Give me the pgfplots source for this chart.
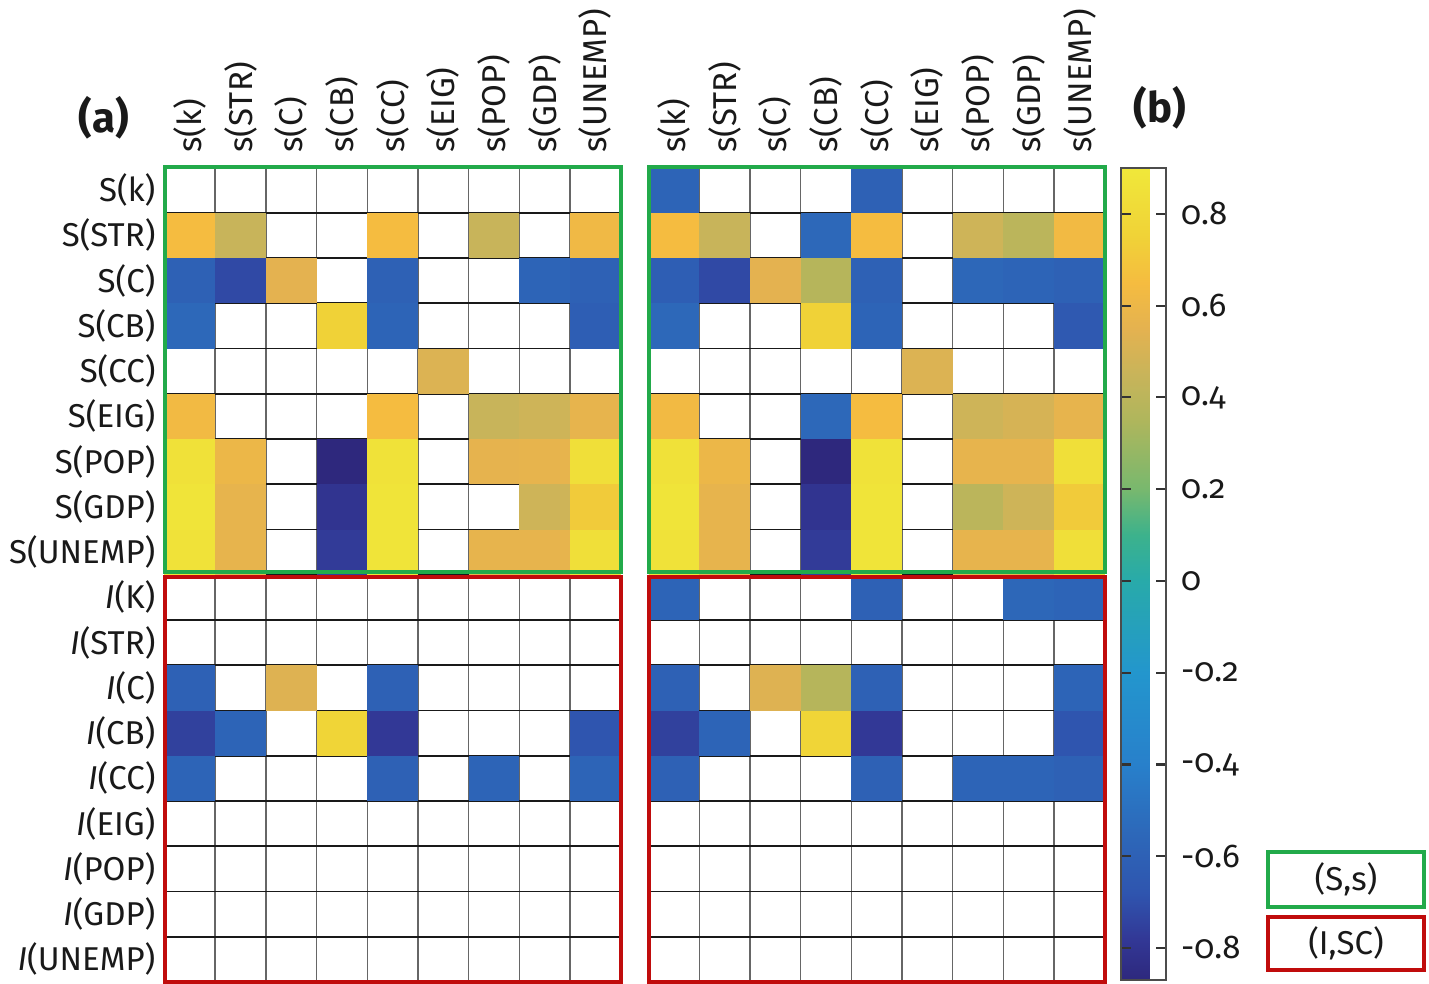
\documentclass[border=0pt]{standalone}
\usepackage{fontspec}
\setmainfont{Fira Sans}[Numbers=OldStyle]
\usepackage{pgfplots}
\usepackage{pgfplotstable}
\pgfplotsset{compat=1.18}
\definecolor{boxgreen}{RGB}{34,170,74}
\definecolor{boxred}{RGB}{192,12,12}
\definecolor{txt}{RGB}{25,25,25}
\newcommand{\lbl}{\fontsize{16.5}{19}\selectfont}
\pgfdeclareplotmark{cell}{\pgfpathrectangle{\pgfqpoint{-12.675pt}{-11.3125pt}}{\pgfqpoint{25.35pt}{22.625pt}}\pgfusepathqfill}
\pgfplotsset{colormap={refparula}{
 rgb255(0cm)=(46,40,125);
 rgb255(9cm)=(50,56,150);
 rgb255(19cm)=(47,85,175);
 rgb255(32cm)=(45,104,185);
 rgb255(47cm)=(40,128,203);
 rgb255(67cm)=(35,150,205);
 rgb255(87cm)=(40,170,170);
 rgb255(97cm)=(60,178,140);
 rgb255(107cm)=(120,184,110);
 rgb255(122cm)=(175,182,92);
 rgb255(132cm)=(200,180,90);
 rgb255(142cm)=(228,178,80);
 rgb255(152cm)=(245,188,64);
 rgb255(162cm)=(240,210,55);
 rgb255(177cm)=(240,232,58)}}
% panel (a): column, row, value (white cells omitted)
\pgfplotstableread{
c r v
0 1 0.65
1 1 0.45
4 1 0.65
6 1 0.45
8 1 0.62
0 2 -0.60
1 2 -0.72
2 2 0.55
4 2 -0.60
7 2 -0.58
8 2 -0.60
0 3 -0.55
3 3 0.75
4 3 -0.58
8 3 -0.62
5 4 0.52
0 5 0.63
4 5 0.65
6 5 0.45
7 5 0.47
8 5 0.57
0 6 0.85
1 6 0.60
3 6 -0.87
4 6 0.86
6 6 0.56
7 6 0.57
8 6 0.84
0 7 0.87
1 7 0.57
3 7 -0.80
4 7 0.87
7 7 0.47
8 7 0.72
0 8 0.86
1 8 0.57
3 8 -0.77
4 8 0.87
6 8 0.57
7 8 0.57
8 8 0.84
0 11 -0.60
2 11 0.53
4 11 -0.60
0 12 -0.75
1 12 -0.58
3 12 0.77
4 12 -0.78
8 12 -0.68
0 13 -0.58
4 13 -0.60
6 13 -0.58
8 13 -0.58
}\dataA
% panel (b)
\pgfplotstableread{
c r v
0 0 -0.58
4 0 -0.60
0 1 0.65
1 1 0.45
3 1 -0.55
4 1 0.65
6 1 0.47
7 1 0.40
8 1 0.63
0 2 -0.62
1 2 -0.72
2 2 0.55
3 2 0.38
4 2 -0.60
6 2 -0.56
7 2 -0.58
8 2 -0.60
0 3 -0.55
3 3 0.75
4 3 -0.58
8 3 -0.65
5 4 0.52
0 5 0.63
3 5 -0.55
4 5 0.65
6 5 0.47
7 5 0.50
8 5 0.57
0 6 0.85
1 6 0.60
3 6 -0.87
4 6 0.86
6 6 0.57
7 6 0.57
8 6 0.84
0 7 0.87
1 7 0.57
3 7 -0.80
4 7 0.87
6 7 0.40
7 7 0.47
8 7 0.72
0 8 0.86
1 8 0.57
3 8 -0.77
4 8 0.87
6 8 0.57
7 8 0.57
8 8 0.84
0 9 -0.58
4 9 -0.60
7 9 -0.56
8 9 -0.58
0 11 -0.60
2 11 0.53
3 11 0.38
4 11 -0.60
8 11 -0.58
0 12 -0.75
1 12 -0.58
3 12 0.77
4 12 -0.78
8 12 -0.68
0 13 -0.60
4 13 -0.60
6 13 -0.58
7 13 -0.58
8 13 -0.60
}\dataB
\pgfplotsset{hm/.style={
  x=25.35pt, y=22.625pt, y dir=reverse,
  xmin=-0.5, xmax=8.5, ymin=-0.5, ymax=17.5,
  axis line style={draw=none},
  xtick={0,...,8}, ytick={0,...,17},
  minor xtick={0.5,1.5,...,7.5}, minor ytick={0.5,1.5,...,16.5},
  xminorgrids, yminorgrids,
  major tick length=0pt, minor tick length=0pt,
  every minor grid/.style={},
  x grid style={black!60, line width=0.7pt},
  y grid style={black!90, line width=0.8pt},
  axis on top,
  xticklabel pos=upper,
  xticklabel shift=4pt,
  yticklabel shift=1pt,
  xticklabels={s(k),s(STR),s(C),s(CB),s(CC),s(EIG),s(POP),s(GDP),s(UNEMP)},
  xticklabel style={rotate=90, anchor=west, font=\lbl, text=txt},
  yticklabel style={font=\lbl, text=txt},
  colormap name=refparula, point meta min=-0.87, point meta max=0.9,
}}
\begin{document}
\begin{tikzpicture}
\useasboundingbox (0,0) rectangle (714.5pt,-492pt);
\begin{axis}[hm, at={(82.25pt,-83.75pt)}, anchor=north west,
  yticklabels={S(k),S(STR),S(C),S(CB),S(CC),S(EIG),S(POP),S(GDP),S(UNEMP),
  \textit{I}(K),\textit{I}(STR),\textit{I}(C),\textit{I}(CB),\textit{I}(CC),\textit{I}(EIG),\textit{I}(POP),\textit{I}(GDP),\textit{I}(UNEMP)}]
\addplot[scatter, only marks, mark=cell, point meta=explicit,
  scatter/use mapped color={fill=mapped color, draw=none}]
  table[x=c, y=r, meta=v]{\dataA};
\coordinate (a1) at (axis cs:-0.5,-0.5);
\coordinate (a2) at (axis cs:8.5,8.44);
\coordinate (a3) at (axis cs:-0.5,8.56);
\coordinate (a4) at (axis cs:8.5,17.5);
\end{axis}
\begin{axis}[hm, at={(324.25pt,-83.75pt)}, anchor=north west, yticklabels={}]
\addplot[scatter, only marks, mark=cell, point meta=explicit,
  scatter/use mapped color={fill=mapped color, draw=none}]
  table[x=c, y=r, meta=v]{\dataB};
\coordinate (b1) at (axis cs:-0.5,-0.5);
\coordinate (b2) at (axis cs:8.5,8.44);
\coordinate (b3) at (axis cs:-0.5,8.56);
\coordinate (b4) at (axis cs:8.5,17.5);
\end{axis}
\draw[boxgreen, line width=2pt] (a1) rectangle (a2);
\draw[boxred, line width=2pt] (a3) rectangle (a4);
\draw[boxgreen, line width=2pt] (b1) rectangle (b2);
\draw[boxred, line width=2pt] (b3) rectangle (b4);
% colour bar
\begin{axis}[at={(552pt,-84pt)}, anchor=north west, hide axis, scale only axis,
  width=22.5pt, height=406pt, xmin=0, xmax=1, ymin=0, ymax=1,
  colormap name=refparula, point meta min=-0.87, point meta max=0.9,
  colorbar,
  colorbar style={at={(parent axis.north west)}, anchor=north west, xshift=0pt,
    width=22.5pt, height=406pt,
    ytick={-0.8,-0.6,-0.4,-0.2,0,0.2,0.4,0.6,0.8},
    yticklabels={-0.8,-0.6,-0.4,-0.2,0,0.2,0.4,0.6,0.8},
    yticklabel style={font=\lbl, text=txt},
    yticklabel shift=4pt,
    tick align=inside, major tick length=5pt,
    tick style={black!80, line width=1.1pt},
    axis line style={black!70, line width=0.9pt}}]
\addplot[draw=none] coordinates {(0.5,0.5)};
\end{axis}
\node[font=\bfseries\fontsize{21}{24}\selectfont, text=txt] at (52pt,-59pt) {(a)};
\node[font=\bfseries\fontsize{21}{24}\selectfont, text=txt] at (580pt,-54pt) {(b)};
\draw[boxgreen, line width=2pt] (634pt,-426pt) rectangle (712pt,-453.5pt);
\node[font=\lbl, text=txt] at (673pt,-439.75pt) {(S,s)};
\draw[boxred, line width=2pt] (634pt,-458.5pt) rectangle (712pt,-485pt);
\node[font=\lbl, text=txt] at (673pt,-471.75pt) {(I,SC)};
\end{tikzpicture}
\end{document}
